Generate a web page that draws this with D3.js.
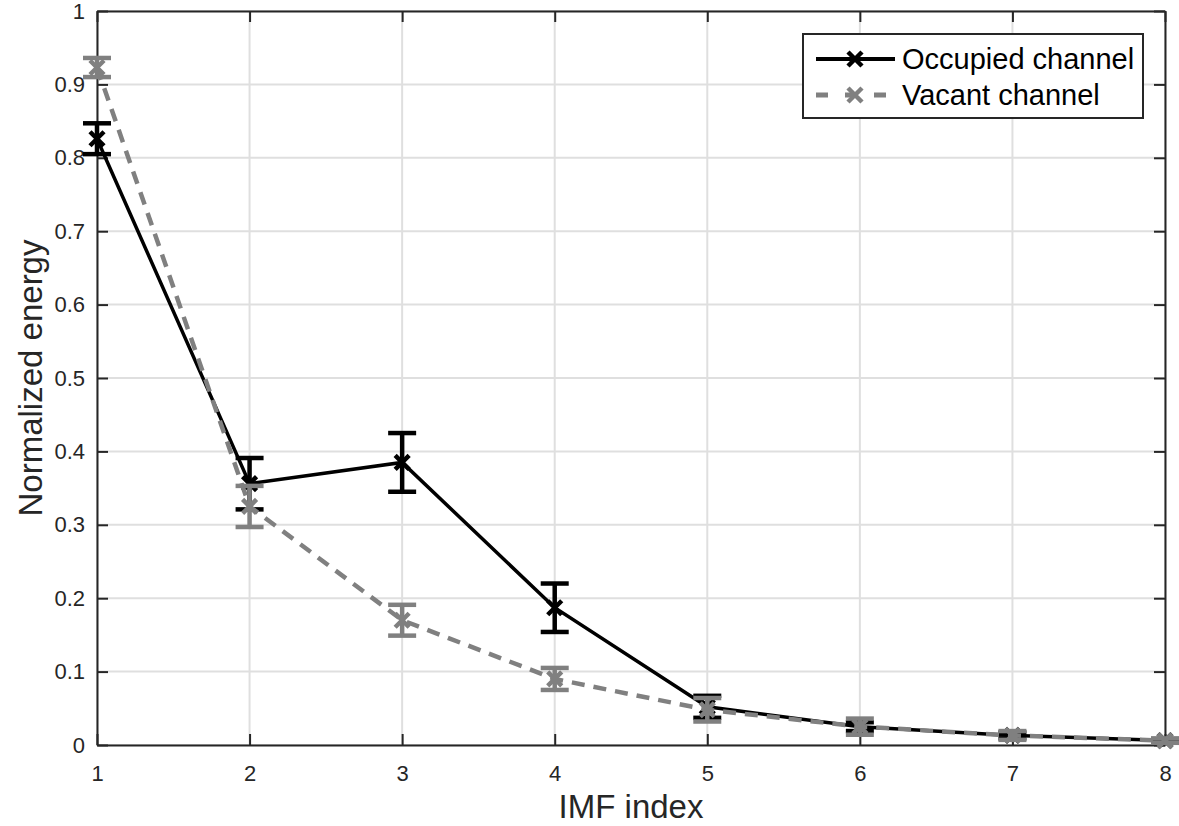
<!DOCTYPE html>
<html><head><meta charset="utf-8">
<script src="https://cdn.jsdelivr.net/npm/d3@7"></script>
<style>body{margin:0;background:#fff;} svg{display:block;}</style>
</head><body>
<svg id="chart" width="1179" height="826"></svg>
<script>
const imfIndex = [1, 2, 3, 4, 5, 6, 7, 8];
const occupiedMean = [0.826, 0.356, 0.385, 0.187, 0.052, 0.025, 0.013, 0.006];
const occupiedErr  = [0.021, 0.035, 0.040, 0.033, 0.015, 0.006, 0.004, 0.002];
const vacantMean   = [0.923, 0.325, 0.170, 0.090, 0.048, 0.025, 0.013, 0.006];
const vacantErr    = [0.013, 0.028, 0.021, 0.015, 0.016, 0.011, 0.006, 0.003];
const xTicks = [1, 2, 3, 4, 5, 6, 7, 8];
const yTicks = [0, 0.1, 0.2, 0.3, 0.4, 0.5, 0.6, 0.7, 0.8, 0.9, 1];
const seriesNames = ["Occupied channel", "Vacant channel"];

const svg = d3.select("#chart");
const m = {left: 97, right: 1165, top: 11, bottom: 745};
const x = d3.scaleLinear().domain([1, 8]).range([m.left, m.right]);
const y = d3.scaleLinear().domain([0, 1]).range([m.bottom, m.top]);
const axisCol = "#262626";
const font = "'Liberation Sans', Arial, sans-serif";

// grid
const g = svg.append("g");
g.selectAll(".gx").data(xTicks).enter().append("line")
  .attr("x1", d => x(d)).attr("x2", d => x(d)).attr("y1", m.top).attr("y2", m.bottom)
  .attr("stroke", "#dfdfdf").attr("stroke-width", 2);
g.selectAll(".gy").data(yTicks).enter().append("line")
  .attr("x1", m.left).attr("x2", m.right).attr("y1", d => y(d)).attr("y2", d => y(d))
  .attr("stroke", "#dfdfdf").attr("stroke-width", 2);

// axes (inward ticks on all four sides)
const tickLen = 11;
const axB = d3.axisBottom(x).tickValues(xTicks).tickSizeInner(-tickLen).tickSizeOuter(0).tickPadding(20).tickFormat(d3.format("d"));
const axL = d3.axisLeft(y).tickValues(yTicks).tickSizeInner(-tickLen).tickSizeOuter(0).tickPadding(12).tickFormat(d => d === 0 || d === 1 ? String(d) : d3.format(".1f")(d));
const axT = d3.axisTop(x).tickValues(xTicks).tickSizeInner(-tickLen).tickSizeOuter(0).tickFormat("");
const axR = d3.axisRight(y).tickValues(yTicks).tickSizeInner(-tickLen).tickSizeOuter(0).tickFormat("");
function styleAxis(sel) {
  sel.select(".domain").attr("stroke", axisCol).attr("stroke-width", 2);
  sel.selectAll(".tick line").attr("stroke", axisCol).attr("stroke-width", 2);
  sel.selectAll(".tick text").attr("fill", axisCol).style("font-family", font).style("font-size", "22px");
}
svg.append("g").attr("transform", `translate(0,${m.bottom})`).call(axB).call(styleAxis);
svg.append("g").attr("transform", `translate(${m.left},0)`).call(axL).call(styleAxis);
svg.append("g").attr("transform", `translate(0,${m.top})`).call(axT).call(styleAxis);
svg.append("g").attr("transform", `translate(${m.right},0)`).call(axR).call(styleAxis);

// data series
const series = [
  {name: seriesNames[0], mean: occupiedMean, err: occupiedErr, color: "#000000", dash: null, width: 3.5},
  {name: seriesNames[1], mean: vacantMean, err: vacantErr, color: "#808080", dash: "13,9", width: 4.5}
];
const capHalf = 14;
const mk = 7;
series.forEach(s => {
  const sg = svg.append("g");
  const pts = imfIndex.map((d, i) => ({x: d, y: s.mean[i], e: s.err[i]}));
  sg.append("path").datum(pts)
    .attr("d", d3.line().x(d => x(d.x)).y(d => y(d.y)))
    .attr("fill", "none").attr("stroke", s.color).attr("stroke-width", s.width)
    .attr("stroke-dasharray", s.dash);
  const eb = sg.selectAll(".eb").data(pts).enter().append("g").attr("stroke", s.color).attr("stroke-width", 4.5);
  eb.append("line").attr("x1", d => x(d.x)).attr("x2", d => x(d.x)).attr("y1", d => y(d.y - d.e)).attr("y2", d => y(d.y + d.e));
  eb.append("line").attr("x1", d => x(d.x) - capHalf).attr("x2", d => x(d.x) + capHalf).attr("y1", d => y(d.y + d.e)).attr("y2", d => y(d.y + d.e));
  eb.append("line").attr("x1", d => x(d.x) - capHalf).attr("x2", d => x(d.x) + capHalf).attr("y1", d => y(d.y - d.e)).attr("y2", d => y(d.y - d.e));
  const mg = sg.selectAll(".mk").data(pts).enter().append("path")
    .attr("d", d => `M${x(d.x)-mk},${y(d.y)-mk}L${x(d.x)+mk},${y(d.y)+mk}M${x(d.x)-mk},${y(d.y)+mk}L${x(d.x)+mk},${y(d.y)-mk}`)
    .attr("stroke", s.color).attr("stroke-width", 4.5).attr("fill", "none");
});

// axis labels
svg.append("text").attr("x", (m.left + m.right) / 2).attr("y", 818).attr("text-anchor", "middle")
  .attr("fill", axisCol).style("font-family", font).style("font-size", "33px").text("IMF index");
svg.append("text").attr("transform", `translate(42,${(m.top + m.bottom) / 2}) rotate(-90)`).attr("text-anchor", "middle")
  .attr("fill", axisCol).style("font-family", font).style("font-size", "33px").text("Normalized energy");

// legend
const lg = svg.append("g");
lg.append("rect").attr("x", 803).attr("y", 34).attr("width", 340).attr("height", 84)
  .attr("fill", "#fff").attr("stroke", axisCol).attr("stroke-width", 2);
const ly = [59, 95];
series.forEach((s, i) => {
  lg.append("line").attr("x1", 816).attr("x2", 895).attr("y1", ly[i]).attr("y2", ly[i])
    .attr("stroke", s.color).attr("stroke-width", s.width + 0.5).attr("stroke-dasharray", i === 1 ? "12,17" : null)
    .attr("stroke-dashoffset", 0);
  const cx = 855;
  lg.append("path").attr("d", `M${cx-mk},${ly[i]-mk}L${cx+mk},${ly[i]+mk}M${cx-mk},${ly[i]+mk}L${cx+mk},${ly[i]-mk}`)
    .attr("stroke", s.color).attr("stroke-width", 4.5);
  lg.append("text").attr("x", 902).attr("y", ly[i] + 10).attr("fill", "#000")
    .style("font-family", font).style("font-size", "29px").text(s.name);
});
</script>
</body></html>
